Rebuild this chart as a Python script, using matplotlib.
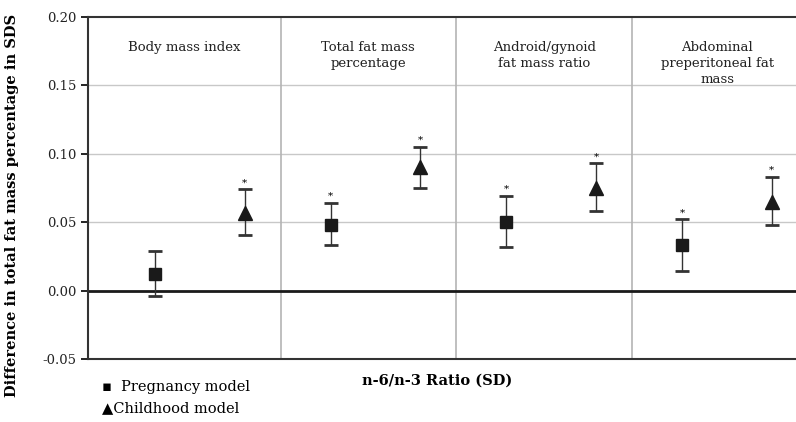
import numpy as np
import matplotlib
matplotlib.use("Agg")
import matplotlib.pyplot as plt

plt.rcParams['font.family'] = 'DejaVu Serif'

# panels and estimates (difference in SDS, with 95% CI)
panels = ['Body mass index', 'Total fat mass\npercentage',
          'Android/gynoid\nfat mass ratio', 'Abdominal\npreperitoneal fat\nmass']
preg_est = [0.012, 0.048, 0.050, 0.033]
preg_lo = [-0.004, 0.033, 0.032, 0.014]
preg_hi = [0.029, 0.064, 0.069, 0.052]
preg_sig = [False, True, True, True]
child_est = [0.057, 0.090, 0.075, 0.065]
child_lo = [0.041, 0.075, 0.058, 0.048]
child_hi = [0.074, 0.105, 0.093, 0.083]
child_sig = [True, True, True, True]

yticks = [-0.05, 0.0, 0.05, 0.10, 0.15, 0.20]

fig = plt.figure(figsize=(7.96, 4.22), dpi=100)
ax = fig.add_axes([0.1106, 0.1493, 0.8894, 0.8104])

xp = np.arange(len(panels)) * 1.96 + 1.0
xc = xp + 1.0
bounds = [2.4, 4.36, 6.32]
centers = [1.33, 3.38, 5.34, 7.27]

ax.set_xlim(0.253, 8.15)
ax.set_ylim(-0.05, 0.20)

for y in [0.05, 0.10, 0.15]:
    ax.axhline(y, color='#c8c8c8', lw=1.0, zorder=0)
for b in bounds:
    ax.axvline(b, color='#b4b4b4', lw=1.2, zorder=0)
ax.axhline(0, color='#1a1a1a', lw=2.0, zorder=1)

def draw(x, est, lo, hi, sig, marker, ms):
    est = np.array(est)
    err = [est - np.array(lo), np.array(hi) - est]
    ax.errorbar(x, est, yerr=err, fmt=marker, color='#1a1a1a', ecolor='#333333',
                ms=ms, elinewidth=1.0, capsize=5, capthick=2.0, zorder=3)
    for xi, h, s in zip(x, hi, sig):
        if s:
            ax.text(xi, h + 0.0015, '*', ha='center', va='bottom', fontsize=7.5)

draw(xp, preg_est, preg_lo, preg_hi, preg_sig, 's', 9)
draw(xc, child_est, child_lo, child_hi, child_sig, '^', 10)

for c, name in zip(centers, panels):
    ax.text(c, 0.1825, name, ha='center', va='top', fontsize=9.5,
            color='#222222', linespacing=1.3)

ax.set_yticks(yticks)
ax.set_yticklabels(['%.2f' % t for t in yticks], fontsize=9.5, color='#222222')
ax.set_xticks([])
ax.tick_params(axis='y', length=5, width=1.2, direction='out')
for s in ['left', 'bottom', 'top']:
    ax.spines[s].set_color('#333333')
    ax.spines[s].set_linewidth(1.5)
ax.spines['right'].set_visible(False)

ax.set_ylabel('Difference in total fat mass percentage in SDS', fontsize=10.5,
              fontweight='bold', labelpad=12)
ax.yaxis.set_label_coords(-0.098, 0.45)
fig.text(0.549, 0.097, 'n-6/n-3 Ratio (SD)', ha='center', va='center',
         fontsize=10.5, fontweight='bold')

fig.text(0.128, 0.083, u'\u25aa  Pregnancy model', ha='left', va='center', fontsize=10.5)
fig.text(0.128, 0.033, u'\u25b2Childhood model', ha='left', va='center', fontsize=10.5)

plt.savefig('out.png', dpi=100)
